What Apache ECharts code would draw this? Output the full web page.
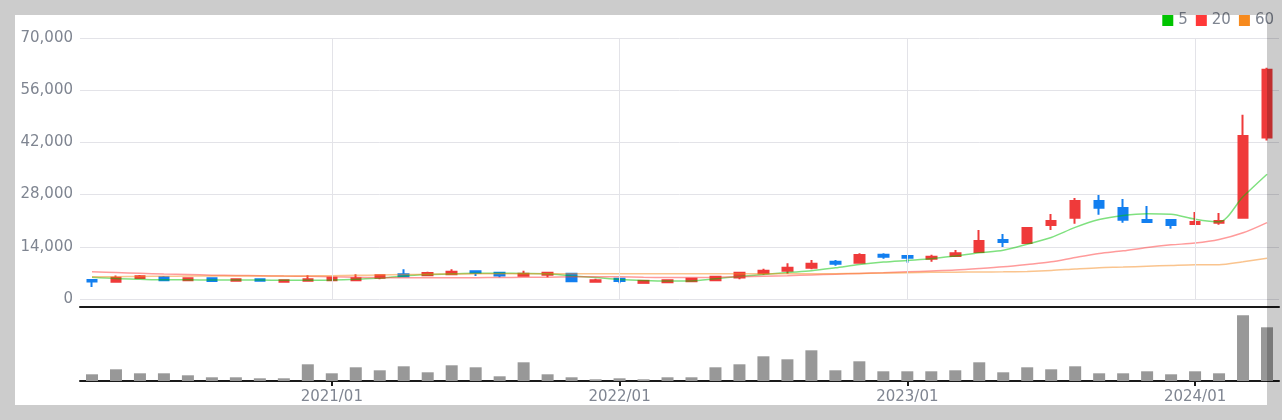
<!DOCTYPE html>
<html>
<head>
<meta charset="utf-8">
<script src="https://cdn.jsdelivr.net/npm/echarts@6/dist/echarts.min.js"></script>
<style>
html,body{margin:0;padding:0;background:#fff;}
#chart{width:1282px;height:420px;}
</style>
</head>
<body>
<div id="chart"></div>
<script>
const dates = ['2020/03','2020/04','2020/05','2020/06','2020/07','2020/08','2020/09','2020/10','2020/11','2020/12',
  '2021/01','2021/02','2021/03','2021/04','2021/05','2021/06','2021/07','2021/08','2021/09','2021/10','2021/11','2021/12',
  '2022/01','2022/02','2022/03','2022/04','2022/05','2022/06','2022/07','2022/08','2022/09','2022/10','2022/11','2022/12',
  '2023/01','2023/02','2023/03','2023/04','2023/05','2023/06','2023/07','2023/08','2023/09','2023/10','2023/11','2023/12',
  '2024/01','2024/02','2024/03','2024/04'];
const openP  = [5100,4600,5600,5850,5050,5590,4870,5320,4600,4870, 5050,5050,5670,6660,6400,6660,7470,7010,6210,6480,6740,4600,
  5400,4330,4520,4780,5050,5780,6930,7550,8360,9970,9700,11850, 11500,10780,11500,12580,15800,15000,19830,21790,26280,24400,21170,21170,
  20100,20450,21790,43290];
const closeP = [4700,5670,6100,5050,5590,4860,5320,4870,5050,5320, 5670,5590,6400,6130,7000,7280,7010,6320,6740,7010,4780,5050,
  4860,4860,5050,5400,5940,7010,7550,8360,9430,9430,11770,11310, 11040,11310,12300,15530,15260,19020,20900,26280,24480,21250,20640,19830,
  20640,20900,43740,61480];
const lowP   = [3200,4330,5600,4780,5050,4860,4870,4860,4600,4870, 5050,5050,5320,6130,6200,6600,6200,5860,5940,5860,4780,4600,
  4250,4330,4250,4780,5050,5320,6480,6740,8000,8890,9430,10770, 9700,9970,11500,12310,13920,15000,18490,20180,22600,20450,20640,18840,
  20100,19910,21790,42480];
const highP  = [5300,6300,6450,6200,5850,5590,5590,5320,5320,6400, 5860,6660,6400,8000,7280,8000,7470,7280,7550,7010,6740,5400,
  5400,4860,5050,5670,6200,7010,8090,9620,10430,10430,12300,12300, 11500,11850,13110,18490,17410,19290,22790,27090,27890,26820,24940,21170,
  23320,23050,49390,62020];
const volume = [6700,11700,7700,7700,5700,3700,3700,2700,2700,16700, 7700,13700,10700,14700,8700,15700,13700,4700,18700,6700,3700,1700,
  2700,1700,3700,3700,13700,16700,24700,21700,30700,10700,19700,9700, 9700,9700,10700,18700,8700,13700,11700,14700,7700,7700,9700,6700,
  9700,7700,65700,53700];
const ma5  = [5850,5500,5300,5150,5150,5100,5100,5100,5000,5000, 5100,5300,5600,6200,6550,6750,6900,6900,6850,6750,6200,5750,
  5250,4950,4800,4860,5450,6050,6580,7100,7550,8350,9250,9900, 10350,10800,11550,12400,13100,14700,16500,19200,21300,22400,22850,22700,
  21400,20700,27400,33450];
const ma20 = [7300,7100,6900,6700,6550,6400,6300,6250,6150,6100, 5950,5850,5750,5700,5700,5700,5720,5750,5800,5850,5950,6000,
  5950,5800,5750,5750,5800,5950,6100,6250,6450,6650,6850,7050, 7280,7500,7750,8150,8620,9260,9980,11150,12220,12920,13830,14520,
  15000,15950,17750,20500];
const ma60 = [5950,6000,6050,6100,6150,6150,6150,6150,6150,6200, 6250,6350,6450,6550,6650,6700,6750,6750,6750,6750,6750,6750,
  6750,6750,6750,6750,6750,6750,6750,6750,6750,6800,6850,6950, 7050,7150,7200,7250,7280,7400,7650,8050,8400,8550,8800,9000,
  9180,9200,10000,10900];
const yTicks = {min:0, max:70000, interval:14000};

const candleData = dates.map((d,i)=>[openP[i], closeP[i], lowP[i], highP[i]]);
const isJanLabel = v => String(v).endsWith('/01');
const isJan = (idx, val) => isJanLabel(val);
const fontFam = 'DejaVu Sans';
const txtColor = '#7f8591';
const UP = '#ef3a3a', DOWN = '#127ff0';
const GRIDC = '#e3e3e8';

const chart = echarts.init(document.getElementById('chart'));
chart.setOption({
  animation:false,
  backgroundColor:'#fff',
  legend:{
    right:3, top:8, itemWidth:11, itemHeight:11, itemGap:8, icon:'rect',
    textStyle:{fontFamily:fontFam, fontSize:15, color:txtColor},
    data:[{name:'5', itemStyle:{color:'#00c400'}},{name:'20', itemStyle:{color:'#ff3838'}},{name:'60', itemStyle:{color:'#f68a1e'}}]
  },
  grid:[
    {left:80, right:3, top:38, bottom:121},
    {left:80, right:3, top:310, bottom:39}
  ],
  xAxis:[
    {type:'category', gridIndex:0, data:dates, boundaryGap:true, offset:8,
      axisLine:{onZero:false, lineStyle:{color:'#1a1a1a', width:2}}, axisTick:{show:false}, axisLabel:{show:false},
      splitLine:{show:false}},
    {type:'category', gridIndex:1, data:dates, boundaryGap:true,
      axisLine:{onZero:false, lineStyle:{color:'#1a1a1a', width:2}},
      axisTick:{show:true, interval:isJan, alignWithLabel:true, length:5, lineStyle:{color:'#1a1a1a', width:2}},
      axisLabel:{interval:isJan, margin:9, fontFamily:fontFam, fontSize:15, color:txtColor},
      splitLine:{show:false}}
  ],
  yAxis:[
    {type:'value', gridIndex:0, min:yTicks.min, max:yTicks.max, interval:yTicks.interval,
      axisLine:{show:false}, axisTick:{show:false},
      axisLabel:{margin:7, fontFamily:fontFam, fontSize:15, color:txtColor, formatter:v=>v.toLocaleString('en-US')},
      splitLine:{lineStyle:{color:GRIDC, width:1}}},
    {type:'value', gridIndex:1, min:0, max:71000, axisLine:{show:false}, axisTick:{show:false},
      axisLabel:{show:false}, splitLine:{show:false}}
  ],
  series:[
    {type:'line', name:'vgrid', xAxisIndex:0, yAxisIndex:0, data:[], silent:true, z:1,
      markLine:{symbol:['none','none'], silent:true, label:{show:false}, emphasis:{disabled:true},
        lineStyle:{color:GRIDC, width:1, type:'solid'},
        data:dates.filter(isJanLabel).map(d=>({xAxis:d}))}},
    {type:'candlestick', name:'price', xAxisIndex:0, yAxisIndex:0, data:candleData, barWidth:10, z:2,
      itemStyle:{color:UP, color0:DOWN, borderColor:UP, borderColor0:DOWN, borderWidth:2}},
    {type:'line', name:'5', xAxisIndex:0, yAxisIndex:0, data:ma5, showSymbol:false, smooth:0.3,
      lineStyle:{color:'#00c400', width:1.5, opacity:0.5}, itemStyle:{color:'#00c400'}, z:3},
    {type:'line', name:'20', xAxisIndex:0, yAxisIndex:0, data:ma20, showSymbol:false, smooth:0.3,
      lineStyle:{color:'#ff3838', width:1.5, opacity:0.5}, itemStyle:{color:'#ff3838'}, z:3},
    {type:'line', name:'60', xAxisIndex:0, yAxisIndex:0, data:ma60, showSymbol:false, smooth:0.3,
      lineStyle:{color:'#f68a1e', width:1.5, opacity:0.5}, itemStyle:{color:'#f68a1e'}, z:3},
    {type:'bar', name:'vol', xAxisIndex:1, yAxisIndex:1, data:volume, barWidth:12,
      itemStyle:{color:'#989898'}}
  ],
  graphic:[
    {type:'rect', shape:{x:0,y:0,width:1282,height:15}, style:{fill:'rgba(0,0,0,0.2)'}, z:1000, silent:true},
    {type:'rect', shape:{x:0,y:405,width:1282,height:15}, style:{fill:'rgba(0,0,0,0.2)'}, z:1000, silent:true},
    {type:'rect', shape:{x:0,y:15,width:15,height:390}, style:{fill:'rgba(0,0,0,0.2)'}, z:1000, silent:true},
    {type:'rect', shape:{x:1267,y:15,width:15,height:390}, style:{fill:'rgba(0,0,0,0.2)'}, z:1000, silent:true}
  ]
});
</script>
</body>
</html>
